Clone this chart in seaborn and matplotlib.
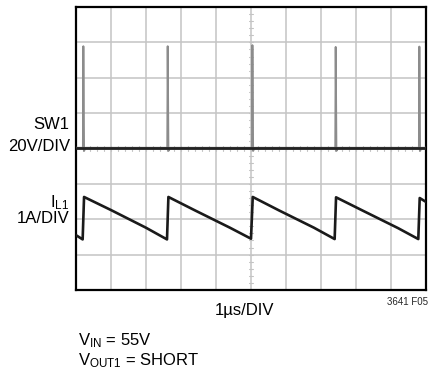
"""Scope capture: SW1 switch node and inductor current IL1, VIN = 55V, VOUT1 shorted."""
import numpy as np
import pandas as pd
import matplotlib
matplotlib.use("Agg")
import matplotlib.pyplot as plt
import seaborn as sns

# screen is 10 x 8 divisions, values below are in divisions
SPIKE_X = [0.21, 2.62, 5.04, 7.42, 9.81]
SW1_LOW = 4.02
SW1_HIGH = [6.89, 6.89, 6.92, 6.87, 6.88]
SW1_DIP = 3.93

IL1_X = [0.0, 0.19, 0.23, 1.0, 2.0, 2.60, 2.64, 3.4, 4.4, 5.00, 5.05, 5.8,
         6.8, 7.39, 7.43, 8.2, 9.2, 9.78, 9.82, 10.0]
IL1_Y = [1.55, 1.43, 2.63, 2.26, 1.76, 1.43, 2.63, 2.25, 1.76, 1.45, 2.63,
         2.25, 1.76, 1.44, 2.62, 2.24, 1.75, 1.44, 2.60, 2.49]

W, H = 429, 375
FONT = ["Liberation Sans Narrow", "Liberation Sans", "DejaVu Sans"]


def sw1_trace():
    xs, ys = [0.0], [SW1_LOW]
    for s, hi in zip(SPIKE_X, SW1_HIGH):
        xs += [s - 0.012, s, s + 0.02, s + 0.06]
        ys += [SW1_LOW, hi, SW1_DIP, SW1_LOW]
    xs.append(10.0); ys.append(SW1_LOW)
    return pd.DataFrame({"t": xs, "v": ys})


def main():
    sns.set_style("white")
    plt.rcParams["font.family"] = FONT
    plt.rcParams["mathtext.fontset"] = "custom"
    plt.rcParams["mathtext.rm"] = FONT[1]

    fig = plt.figure(figsize=(W / 100, H / 100), dpi=100)
    ax = fig.add_axes([76 / W, 1 - 290 / H, 350 / W, 283 / H])

    ax.set_xlim(0, 10); ax.set_ylim(0, 8)
    ax.set_xticks(range(11)); ax.set_yticks(range(9))
    ax.grid(True, color="#c4c4c4", lw=1.1)
    ax.tick_params(length=0, labelbottom=False, labelleft=False)
    for sp in ax.spines.values():
        sp.set_color("black"); sp.set_linewidth(1.6)

    # minor ticks along the centre crosshair
    for t in np.arange(0.2, 10, 0.2):
        ax.plot([t, t], [3.94, 4.06], color="#c4c4c4", lw=0.8, zorder=1)
    for t in np.arange(0.2, 8, 0.2):
        ax.plot([4.94, 5.06], [t, t], color="#c4c4c4", lw=0.8, zorder=1)

    sw = sw1_trace()
    sns.lineplot(data=sw, x="t", y="v", sort=False, color="#8c8c8c", lw=1.4,
                 ax=ax, zorder=3)
    base = pd.DataFrame({"t": [0.0, 10.0], "v": [SW1_LOW, SW1_LOW]})
    sns.lineplot(data=base, x="t", y="v", color="#222222", lw=2.0, ax=ax,
                 zorder=4)

    il = pd.DataFrame({"t": IL1_X, "i": IL1_Y})
    sns.lineplot(data=il, x="t", y="i", sort=False, color="#1a1a1a", lw=1.9,
                 ax=ax, zorder=5)
    ax.set_xlabel(""); ax.set_ylabel("")

    def px(x, y):
        return x / W, 1 - y / H

    kw = dict(fontsize=12, color="black", va="baseline")
    fig.text(*px(69, 129), "SW1", ha="right", **kw)
    fig.text(*px(70, 151), "20V/DIV", ha="right", **kw)
    fig.text(*px(69, 207), r"$\mathregular{I_{L1}}$", ha="right", **kw)
    fig.text(*px(70, 223), "1A/DIV", ha="right", **kw)
    fig.text(*px(245, 315), "1µs/DIV", ha="center", **kw)
    fig.text(*px(428, 305), "3641 F05", ha="right", fontsize=7, va="baseline")
    fig.text(*px(78, 345), r"$\mathregular{V_{IN}}$ = 55V", ha="left", **kw)
    fig.text(*px(78, 365), r"$\mathregular{V_{OUT1}}$ = SHORT", ha="left", **kw)

    fig.savefig("out.png", dpi=100)


if __name__ == "__main__":
    main()
